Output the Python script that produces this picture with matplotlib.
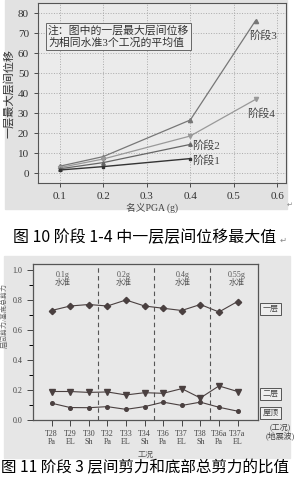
import matplotlib
matplotlib.use('Agg')
import matplotlib.pyplot as plt
from matplotlib.patches import Rectangle
import numpy as np

plt.rcParams['font.family'] = ['Liberation Serif', 'Noto Sans CJK SC', 'DejaVu Sans']

# --- figure 10 data ---
pga = [0.1, 0.2, 0.4, 0.55]
stage3 = [3.4, 8.2, 26.5, 76.2]
stage4 = [2.7, 7.0, 18.5, 36.8]
stage2 = [2.1, 5.2, 14.3]
stage1 = [1.5, 3.2, 7.2]

# --- figure 11 data ---
cases = ['T28\nPa', 'T29\nEL', 'T30\nSh', 'T32\nPa', 'T33\nEL', 'T34\nSh',
         'T36\nPa', 'T37\nEL', 'T38\nSh', 'T36a\nPa', 'T37a\nEL']
floor1 = [0.73, 0.76, 0.77, 0.76, 0.80, 0.76, 0.745, 0.73, 0.77, 0.72, 0.79]
floor2 = [0.19, 0.19, 0.184, 0.187, 0.167, 0.182, 0.178, 0.209, 0.147, 0.227, 0.19]
roof = [0.112, 0.083, 0.082, 0.089, 0.071, 0.089, 0.119, 0.097, 0.119, 0.085, 0.059]
levels = ['0.1g\n水准', '0.2g\n水准', '0.4g\n水准', '0.55g\n水准']
level_x = [0.58, 3.9, 7.03, 9.93]

W, H = 295, 490
fig = plt.figure(figsize=(W / 100, H / 100), dpi=100)
fig.patch.set_facecolor('white')

# scanned paper backgrounds
fig.add_artist(Rectangle((5 / W, 1 - 209 / H), 282 / W, 209 / H,
                         transform=fig.transFigure, color='#e2e2e2', zorder=0))
fig.add_artist(Rectangle((4 / W, 1 - 458 / H), 286 / W, 202 / H,
                         transform=fig.transFigure, color='#e6e6e6', zorder=0))

# ---------------- top chart ----------------
ax1 = fig.add_axes([38 / W, 1 - 183 / H, 248 / W, 180 / H])
ax1.set_facecolor('#ebebeb')
ax1.set_xlim(0.05, 0.62)
ax1.set_ylim(-5, 85)
ax1.set_xticks([0.1, 0.2, 0.3, 0.4, 0.5, 0.6])
ax1.set_yticks(range(0, 81, 10))
ax1.grid(True, linestyle=':', color='#aaaaaa', linewidth=0.7)
for s in ax1.spines.values():
    s.set_color('#555555')
    s.set_linewidth(0.8)
ax1.tick_params(labelsize=8, colors='#333333', length=3, width=0.6)

ax1.plot(pga, stage3, color='#777777', lw=0.9, marker='^', ms=3)
ax1.plot(pga, stage4, color='#999999', lw=0.9, marker='v', ms=3)
ax1.plot(pga[:3], stage2, color='#666666', lw=0.9, marker='^', ms=2.5)
ax1.plot(pga[:3], stage1, color='#333333', lw=1.0, marker='s', ms=2)

for x, y, t in [(0.567, 69, '阶段3'), (0.563, 30, '阶段4'),
                (0.436, 14, '阶段2'), (0.436, 6.2, '阶段1')]:
    ax1.text(x, y, t, fontsize=8, color='#444444', ha='center', va='center')

ax1.text(0.04, 0.815, '注：图中的一层最大层间位移\n为相同水准3个工况的平均值',
         transform=ax1.transAxes, fontsize=7.8, color='#333333', va='center',
         linespacing=1.25,
         bbox=dict(boxstyle='square,pad=0.2', fc='#eeeeee', ec='#666666', lw=0.7))

ax1.set_ylabel('一层最大层间位移', fontsize=8, color='#333333', labelpad=3)
ax1.set_xlabel('名义PGA (g)', fontsize=7, color='#444444', labelpad=4)
ax1.xaxis.set_label_coords(0.46, -0.11)

fig.text(290 / W, 1 - 205 / H, '↵', fontsize=5, color='#888888',
         family='DejaVu Sans', ha='center', va='center')
fig.text(13 / W, 1 - 238 / H, '图 10 阶段 1-4 中一层层间位移最大值',
         fontsize=11.5, family=['Noto Sans CJK SC'], ha='left', va='center')
fig.text(280 / W, 1 - 240 / H, '↵', fontsize=6, color='#888888',
         family='DejaVu Sans', ha='left', va='center')

# ---------------- bottom chart ----------------
ax2 = fig.add_axes([33 / W, 1 - 420 / H, 225 / W, 156 / H])
ax2.set_facecolor('#e8e8e8')
idx = np.arange(len(cases))
ax2.set_xlim(-1, 11.1)
ax2.set_ylim(0, 1.04)
ax2.set_yticks([0.0, 0.2, 0.4, 0.6, 0.8, 1.0])
ax2.set_yticks([0.1, 0.3, 0.5, 0.7, 0.9], minor=True)
ax2.set_yticklabels(['0.0', '0.2', '0.4', '0.6', '0.8', '1.0'])
ax2.set_xticks(idx)
ax2.set_xticklabels(cases, linespacing=0.9)
ax2.tick_params(labelsize=5.8, colors='#444444', length=4, width=0.7)
ax2.tick_params(axis='y', which='minor', length=3, width=0.7)
for s in ax2.spines.values():
    s.set_color('#555555')
    s.set_linewidth(0.9)

for xv in [2.5, 5.5, 8.5]:
    ax2.axvline(xv, color='#555555', lw=0.8, linestyle=(0, (4, 3)))

lc = '#4a4040'
ax2.plot(idx, floor1, color=lc, lw=0.8, marker='D', ms=3.2)
ax2.plot(idx, floor2, color=lc, lw=0.8, marker='v', ms=4)
ax2.plot(idx, roof, color=lc, lw=0.8, marker='o', ms=2.6)

for x, t in zip(level_x, levels):
    ax2.text(x, 0.94, t, fontsize=5.8, color='#555555', ha='center', va='center',
             linespacing=1.1)

for y, t in [(0.74, '一层'), (0.173, '二层'), (0.047, '屋顶')]:
    ax2.text(1.055, y, t, transform=ax2.get_yaxis_transform(), fontsize=5.8,
             color='#444444', ha='center', va='center',
             bbox=dict(boxstyle='square,pad=0.3', fc='#eeeeee', ec='#555555', lw=0.7))

ax2.text(1.1, -0.075, '(工况)\n(地震波)', transform=ax2.transAxes, fontsize=5.8,
         color='#444444', ha='center', va='center', linespacing=1.1)
ax2.set_xlabel('工况', fontsize=5.8, color='#555555', labelpad=4)
ax2.set_ylabel('层间剪力/基底总剪力', fontsize=5, color='#666666', labelpad=6)
ax2.yaxis.set_label_coords(-0.11, 0.67)

fig.text(1 / W, 1 - 468 / H, '图 11 阶段 3 层间剪力和底部总剪力的比值',
         fontsize=11.2, family=['Noto Sans CJK SC'], ha='left', va='center')

fig.savefig('out.png', dpi=100)
